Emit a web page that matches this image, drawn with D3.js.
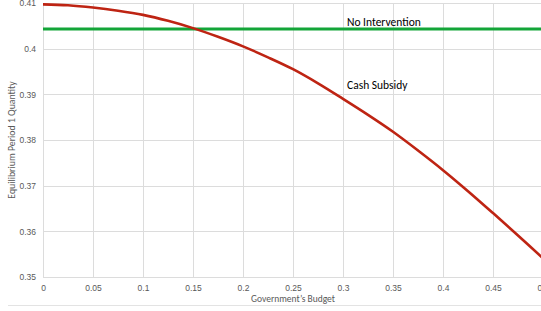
<!DOCTYPE html>
<html>
<head>
<meta charset="utf-8">
<script src="https://cdn.jsdelivr.net/npm/d3@7"></script>
<style>
  body { margin: 0; background: #fff; overflow: hidden; }
  svg { display: block; font-family: Calibri, Carlito, "Open Sans", sans-serif; }
</style>
</head>
<body>
<div id="chart"></div>
<script>
// values
const budget = [0, 0.025, 0.05, 0.075, 0.1, 0.125, 0.15, 0.175, 0.2, 0.225, 0.25,
                0.275, 0.3, 0.325, 0.35, 0.375, 0.4, 0.425, 0.45, 0.475, 0.5];
const cashSubsidy = [0.4097, 0.4095, 0.4090, 0.4083, 0.4074, 0.4061, 0.4045, 0.4026, 0.4005, 0.3981, 0.3955,
                     0.3924, 0.3890, 0.3855, 0.3818, 0.3777, 0.3734, 0.3688, 0.3640, 0.3591, 0.3541];
const noIntervention = 0.4043;
const xTicks = [0, 0.05, 0.1, 0.15, 0.2, 0.25, 0.3, 0.35, 0.4, 0.45, 0.5];
const yTicks = [0.35, 0.36, 0.37, 0.38, 0.39, 0.4, 0.41];

const width = 541,
      height = 311;
const margin = {top: 3, left: 43};
const plotW = 500, plotH = 274;

const svg = d3.select("#chart")
.append("svg")
  .attr("width", width)
  .attr("height", height);

const x = d3.scaleLinear().domain([0, 0.5]).range([margin.left, margin.left + plotW]);
const y = d3.scaleLinear().domain([0.35, 0.41]).range([margin.top + plotH, margin.top]);

// outer chart border line at the bottom
svg.append("line")
  .attr("x1", 8).attr("x2", width)
  .attr("y1", 305.5).attr("y2", 305.5)
  .attr("stroke", "#e3e3e3");

// gridlines
svg.append("g")
  .selectAll("line")
  .data(yTicks)
  .enter()
  .append("line")
    .attr("x1", margin.left).attr("x2", margin.left + plotW)
    .attr("y1", d => Math.round(y(d)) + 0.5)
    .attr("y2", d => Math.round(y(d)) + 0.5)
    .attr("stroke", "#dcdcdc");

svg.append("g")
  .selectAll("line")
  .data(xTicks)
  .enter()
  .append("line")
    .attr("x1", d => Math.round(x(d)) + 0.5)
    .attr("x2", d => Math.round(x(d)) + 0.5)
    .attr("y1", margin.top).attr("y2", margin.top + plotH)
    .attr("stroke", "#dcdcdc");

// axes (labels only, lines are the gridlines)
const xAxis = svg.append("g")
  .attr("transform", `translate(0,${margin.top + plotH})`)
  .call(d3.axisBottom(x).tickValues(xTicks).tickSize(0).tickPadding(8).tickFormat(d3.format("")));
xAxis.select(".domain").remove();
xAxis.selectAll("text").attr("fill", "#595959").style("font-size", "8.5px");

const yAxis = svg.append("g")
  .attr("transform", `translate(${margin.left},0)`)
  .call(d3.axisLeft(y).tickValues(yTicks).tickSize(0).tickPadding(7).tickFormat(d3.format("")));
yAxis.select(".domain").remove();
yAxis.selectAll("text").attr("fill", "#595959").style("font-size", "8.5px");

// axis titles
svg.append("text")
  .attr("x", margin.left + plotW / 2)
  .attr("y", 302)
  .attr("text-anchor", "middle")
  .attr("fill", "#595959")
  .style("font-size", "9.5px")
  .text("Government’s Budget");

svg.append("text")
  .attr("transform", `translate(15,${margin.top + plotH / 2}) rotate(-90)`)
  .attr("text-anchor", "middle")
  .attr("fill", "#595959")
  .style("font-size", "9.8px")
  .text("Equilibrium Period 1 Quantity");

// no intervention line
svg.append("line")
  .attr("x1", x(0)).attr("x2", x(0.5))
  .attr("y1", y(noIntervention)).attr("y2", y(noIntervention))
  .attr("stroke", "#13a538")
  .attr("stroke-width", 3);

// cash subsidy curve
const line = d3.line()
  .x((d, i) => x(budget[i]))
  .y(d => y(d))
  .curve(d3.curveCatmullRom);

svg.append("path")
  .datum(cashSubsidy)
  .attr("d", line)
  .attr("fill", "none")
  .attr("stroke", "#be2413")
  .attr("stroke-width", 2.6);

// series labels
svg.append("text")
  .attr("x", x(0.304))
  .attr("y", 26)
  .attr("fill", "#000")
  .style("font-size", "11.5px")
  .text("No Intervention");

svg.append("text")
  .attr("x", x(0.304))
  .attr("y", 89)
  .attr("fill", "#000")
  .style("font-size", "11.5px")
  .text("Cash Subsidy");
</script>
</body>
</html>
